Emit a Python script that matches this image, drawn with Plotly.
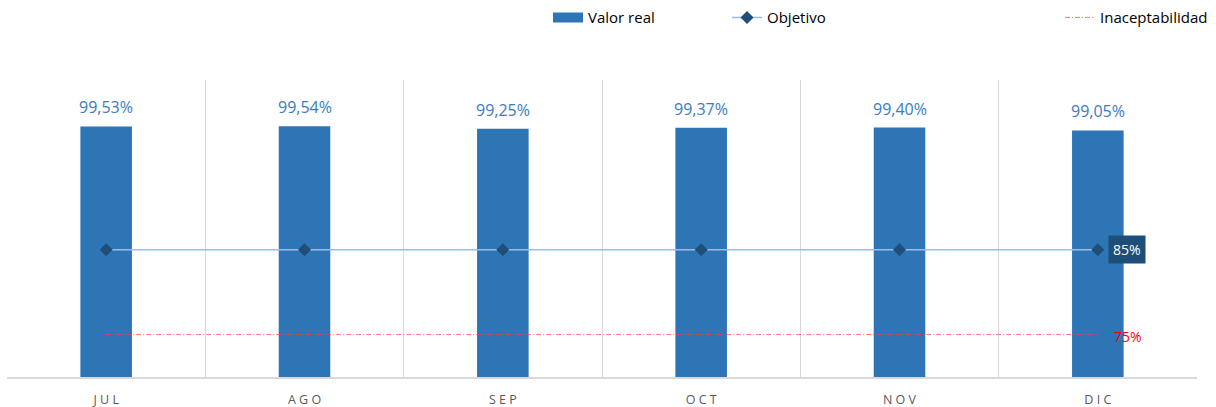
import plotly.graph_objects as go

months = ["JUL", "AGO", "SEP", "OCT", "NOV", "DIC"]
tick_labels = ["J U L", "A G O", "S E P", "O C T", "N O V", "D I C"]
valor_real = [99.53, 99.54, 99.25, 99.37, 99.40, 99.05]
objetivo = [85, 85, 85, 85, 85, 85]
inaceptabilidad = [75, 75, 75, 75, 75, 75]

FONT = "Open Sans"
BAR_COLOR = "#2E75B6"

fig = go.Figure()
fig.add_trace(go.Bar(
    x=months, y=valor_real, name="Valor real",
    marker=dict(color=BAR_COLOR, line=dict(width=0)),
    width=0.26, showlegend=False,
))
# legend entry for the bars (wide rectangle swatch)
fig.add_trace(go.Scatter(
    x=[None], y=[None], name="Valor real", mode="lines",
    line=dict(color=BAR_COLOR, width=11), legend="legend",
))
fig.add_trace(go.Scatter(
    x=months, y=objetivo, name="Objetivo", mode="lines+markers",
    line=dict(color="#9DBAEC", width=1.5),
    marker=dict(symbol="diamond", size=10, color="#1F4E79"),
    legend="legend2",
))
fig.add_trace(go.Scatter(
    x=months, y=inaceptabilidad, name="Inaceptabilidad", mode="lines",
    line=dict(color="rgba(255,60,60,0.7)", width=1, dash="5px,2px,1px,2px"),
    legend="legend3",
))

for m, v in zip(months, valor_real):
    fig.add_annotation(
        x=m, y=v, text=f"{v:.2f}%".replace(".", ","), showarrow=False,
        yanchor="bottom", yshift=6,
        font=dict(color="#3A7CC2", size=16, family=FONT),
    )

fig.add_annotation(
    x=months[-1], y=objetivo[-1], text="85%", showarrow=False,
    xanchor="left", xshift=10, bgcolor="#1F4E79",
    font=dict(color="white", size=14, family=FONT), borderpad=4,
)
fig.add_annotation(
    x=months[-1], y=inaceptabilidad[-1], text="75%", showarrow=False,
    xanchor="left", xshift=14, yshift=-2,
    font=dict(color="#FF0000", size=14, family=FONT),
)

leg_common = dict(orientation="h", yanchor="middle", y=1.21, xanchor="left",
                  font=dict(size=15, color="#000000", family=FONT),
                  bgcolor="rgba(0,0,0,0)", itemwidth=30)
fig.update_layout(
    width=1216, height=407,
    margin=dict(l=7, r=19, t=80, b=30, autoexpand=False),
    paper_bgcolor="white", plot_bgcolor="white",
    separators=",.",
    showlegend=True,
    legend=dict(leg_common, x=(548 - 7) / 1190),
    legend2=dict(leg_common, x=(727 - 7) / 1190),
    legend3=dict(leg_common, x=(1060 - 7) / 1190),
    xaxis=dict(
        type="category", range=[-0.5, 5.5],
        tickmode="array", tickvals=months, ticktext=tick_labels,
        tickson="boundaries", ticks="", showgrid=True,
        gridcolor="#D9D9D9", gridwidth=1,
        showline=True, linecolor="#D9D9D9", linewidth=2,
        ticklabelstandoff=10,
        tickfont=dict(size=12.5, color="#595959", family=FONT),
    ),
    yaxis=dict(range=[70, 105], visible=False, showgrid=False, zeroline=False),
    font=dict(family=FONT),
)

fig.write_html("out.html", config={"displayModeBar": False},
               post_script="document.body.style.margin='0px';")
